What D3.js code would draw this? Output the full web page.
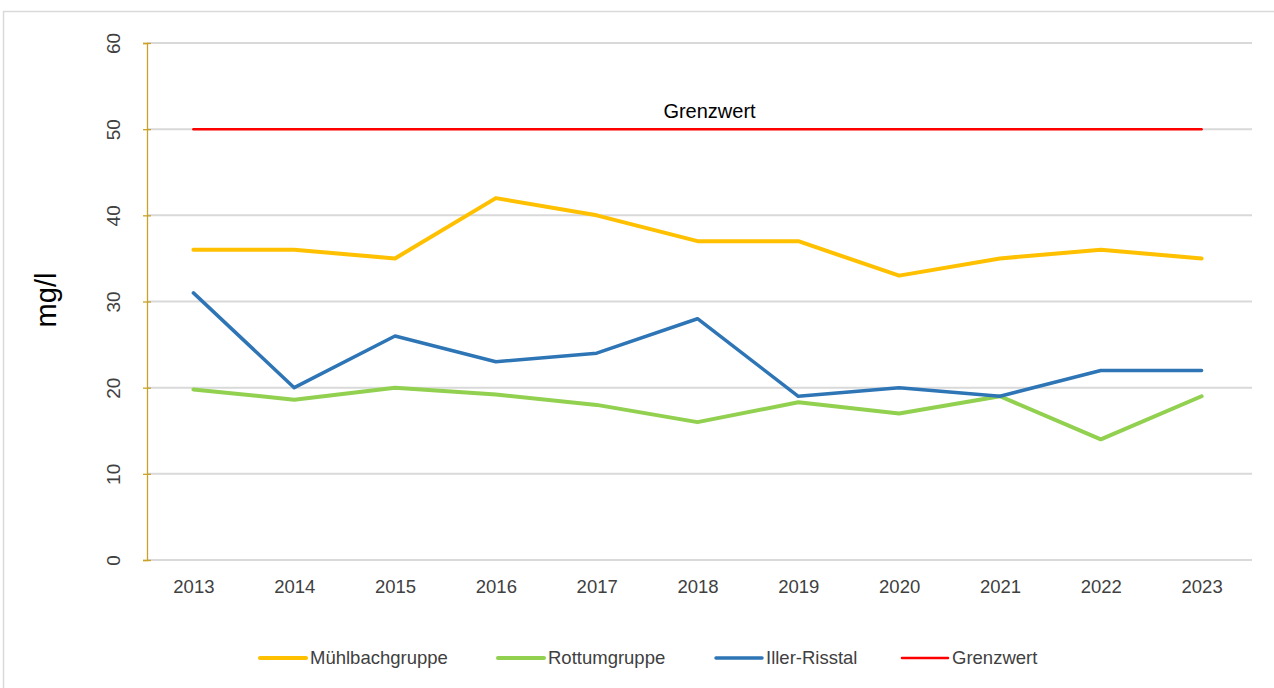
<!DOCTYPE html>
<html lang="de">
<head>
<meta charset="utf-8">
<title>Nitrat mg/l</title>
<script src="https://cdn.jsdelivr.net/npm/d3@7/dist/d3.min.js"></script>
<style>
  body { margin: 0; background: #fff; }
  text { font-family: "Liberation Sans", Arial, sans-serif; }
</style>
</head>
<body>
<script>
const years = ["2013","2014","2015","2016","2017","2018","2019","2020","2021","2022","2023"];
const muehlbach = [36, 36, 35, 42, 40, 37, 37, 33, 35, 36, 35];
const rottum = [19.8, 18.6, 20, 19.2, 18, 16, 18.3, 17, 19, 14, 19];
const iller = [31, 20, 26, 23, 24, 28, 19, 20, 19, 22, 22];
const grenzwert = [50, 50, 50, 50, 50, 50, 50, 50, 50, 50, 50];
const yTicks = [0, 10, 20, 30, 40, 50, 60];

const series = [
  {name: "Mühlbachgruppe", values: muehlbach, color: "#FFC000", width: 4},
  {name: "Rottumgruppe", values: rottum, color: "#92D050", width: 4},
  {name: "Iller-Risstal", values: iller, color: "#2E75B6", width: 3.5},
  {name: "Grenzwert", values: grenzwert, color: "#FF0000", width: 2.5}
];

const w = 1274, h = 688;
const margin = {top: 43, right: 22, bottom: 128, left: 147};

const svg = d3.select("body").append("svg")
  .attr("width", w).attr("height", h);

// chart frame
svg.append("rect")
  .attr("x", 3.5).attr("y", 11.5)
  .attr("width", w).attr("height", h)
  .attr("fill", "none").attr("stroke", "#D9D9D9").attr("stroke-width", 1.5);

const x = d3.scalePoint().domain(years)
  .range([margin.left - 4, w - margin.right]).padding(0.5);
const y = d3.scaleLinear().domain([0, 60])
  .range([h - margin.bottom, margin.top]);

// gridlines
svg.append("g").selectAll("line").data(yTicks).enter().append("line")
  .attr("x1", margin.left).attr("x2", w - margin.right)
  .attr("y1", d => y(d)).attr("y2", d => y(d))
  .attr("stroke", "#D9D9D9").attr("stroke-width", 2);

// y axis
const yAxis = svg.append("g")
  .attr("transform", "translate(" + margin.left + ",0)")
  .call(d3.axisLeft(y).tickValues(yTicks).tickSize(4).tickPadding(0));
yAxis.select(".domain").attr("stroke", "#C9A227").attr("stroke-width", 1.3);
yAxis.selectAll(".tick line").attr("stroke", "#C9A227").attr("stroke-width", 1.3)
  .attr("x1", 4).attr("x2", -4);
yAxis.selectAll(".tick text")
  .attr("x", 0).attr("y", 0)
  .attr("transform", "translate(-34,0) rotate(-90)")
  .attr("text-anchor", "middle")
  .attr("dy", "0.35em")
  .attr("fill", "#404040")
  .style("font-size", "19px");

// x axis labels
const xAxis = svg.append("g")
  .attr("transform", "translate(0," + (h - margin.bottom) + ")")
  .call(d3.axisBottom(x).tickSize(0).tickPadding(20));
xAxis.select(".domain").remove();
xAxis.selectAll(".tick text").attr("fill", "#404040").style("font-size", "18.5px");

// axis title
svg.append("text")
  .attr("transform", "translate(56,300) rotate(-90)")
  .attr("text-anchor", "middle")
  .style("font-size", "29px")
  .attr("fill", "#000")
  .text("mg/l");

// lines
const line = d3.line().x((d, i) => x(years[i])).y(d => y(d));
svg.append("g").selectAll("path").data(series).enter().append("path")
  .attr("d", d => line(d.values))
  .attr("fill", "none")
  .attr("stroke", d => d.color)
  .attr("stroke-width", d => d.width)
  .attr("stroke-linejoin", "round")
  .attr("stroke-linecap", "round");

// Grenzwert label
svg.append("text")
  .attr("x", (x(years[0]) + x(years[years.length - 1])) / 2 + 12)
  .attr("y", y(50) - 11)
  .attr("text-anchor", "middle")
  .style("font-size", "20px")
  .attr("fill", "#000")
  .text("Grenzwert");

// legend
const legendX = [260, 498, 716, 902];
const legend = svg.append("g").selectAll("g").data(series).enter().append("g")
  .attr("transform", (d, i) => "translate(" + legendX[i] + ",658)");
legend.append("line")
  .attr("x1", 0).attr("x2", 46)
  .attr("stroke", d => d.color)
  .attr("stroke-width", d => d.width)
  .attr("stroke-linecap", "round");
legend.append("text")
  .attr("x", 50).attr("dy", "0.35em")
  .style("font-size", "18.5px")
  .attr("fill", "#404040")
  .text(d => d.name);
</script>
</body>
</html>
